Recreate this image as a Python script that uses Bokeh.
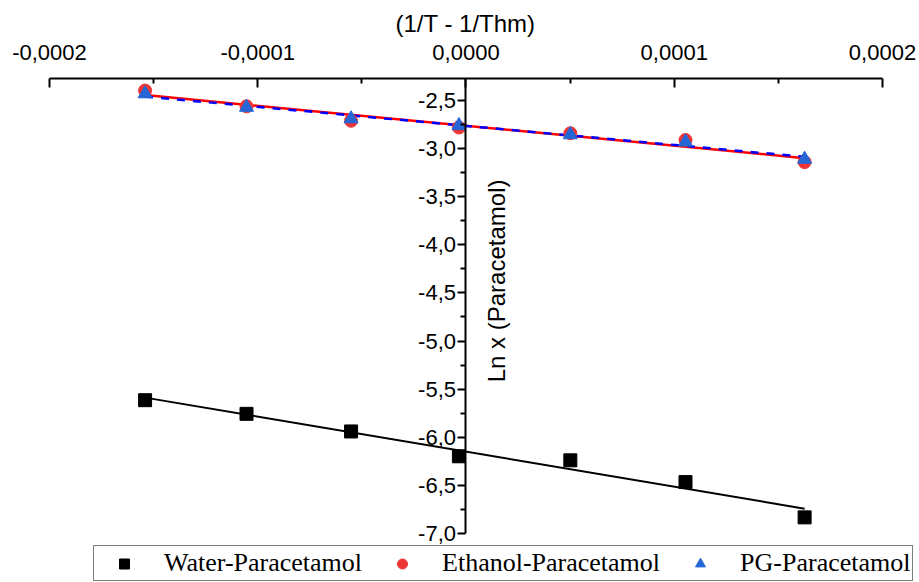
import numpy as np
from bokeh.plotting import figure
from bokeh.models import (ColumnDataSource, FixedTicker, CustomJSTickFormatter,
                          Label, Legend, LegendItem)
from bokeh.embed import file_html
from bokeh.resources import INLINE

# ---- data ----
x_vals = [-0.0001541, -0.0001054, -0.0000552, -0.0000034, 0.0000501, 0.0001054, 0.0001626]
water = [-5.615, -5.757, -5.940, -6.198, -6.240, -6.466, -6.833]
ethanol = [-2.396, -2.560, -2.710, -2.780, -2.840, -2.910, -3.140]
pg = [-2.430, -2.570, -2.690, -2.760, -2.855, -2.930, -3.110]
series_names = ["Water-Paracetamol", "Ethanol-Paracetamol", "PG-Paracetamol"]

x_ticks = [-0.0002, -0.0001, 0.0, 0.0001, 0.0002]
x_minor = [-0.00015, -0.00005, 0.00005, 0.00015]
x_axis_bounds = (-0.0002, 0.0002)
y_ticks = [-7.0, -6.5, -6.0, -5.5, -5.0, -4.5, -4.0, -3.5, -3.0, -2.5]
y_minor = [-6.75, -6.25, -5.75, -5.25, -4.75, -4.25, -3.75, -3.25, -2.75]
y_axis_bounds = (-7.0, -2.271)

x_title = "(1/T - 1/Thm)"
y_title = "Ln x (Paracetamol)"

src = ColumnDataSource(dict(x=x_vals, water=water, ethanol=ethanol, pg=pg))

def fit(ys):
    k, b = np.polyfit(x_vals, ys, 1)
    xs = [x_vals[0], x_vals[-1]]
    return xs, [k * xs[0] + b, k * xs[1] + b]

# the frame is symmetric around x = 0 and runs to the bottom edge so that the
# legend is not clipped; the axes themselves are limited with bounds
p = figure(width=919, height=582, x_range=(-0.00021825, 0.00021777), y_range=(-7.51, -2.271),
           x_axis_location="above", y_axis_location="left",
           output_backend="svg", toolbar_location=None,
           min_border_left=11, min_border_right=0, min_border_bottom=0, min_border_top=78)
p.grid.visible = False
p.outline_line_color = None
p.background_fill_color = "white"
p.border_fill_color = "white"

# x axis (top)
xa = p.xaxis[0]
xa.bounds = x_axis_bounds
xa.ticker = FixedTicker(ticks=x_ticks, minor_ticks=x_minor)
xa.formatter = CustomJSTickFormatter(code="""
    if (Math.abs(tick) < 1e-12) { return '0,0000'; }
    return tick.toFixed(4).replace('.', ',');
""")
xa.axis_label = x_title
xa.axis_label_text_font = "Liberation Sans"
xa.axis_label_text_font_size = "24px"
xa.axis_label_text_font_style = "normal"
xa.axis_label_text_color = "black"
xa.axis_label_standoff = 5
xa.major_label_text_font = "Liberation Sans"
xa.major_label_text_font_size = "22px"
xa.major_label_text_color = "black"
xa.major_label_standoff = 19
xa.axis_line_width = 2
xa.axis_line_color = "black"
xa.major_tick_in = 9
xa.major_tick_out = 0
xa.minor_tick_in = 5
xa.minor_tick_out = 0
xa.major_tick_line_width = 2
xa.minor_tick_line_width = 2

# y axis (crossing at x = 0)
ya = p.yaxis[0]
ya.fixed_location = 0
ya.bounds = y_axis_bounds
ya.ticker = FixedTicker(ticks=y_ticks, minor_ticks=y_minor)
ya.formatter = CustomJSTickFormatter(code="return tick.toFixed(1).replace('.', ',');")
ya.major_label_text_font = "Liberation Sans"
ya.major_label_text_font_size = "22px"
ya.major_label_text_color = "black"
ya.major_label_standoff = 2
ya.axis_line_width = 2
ya.axis_line_color = "black"
ya.major_tick_in = 0
ya.major_tick_out = 8
ya.minor_tick_in = 0
ya.minor_tick_out = 5
ya.major_tick_line_width = 2
ya.minor_tick_line_width = 2

p.add_layout(Label(x=0, y=-4.375, x_offset=17, text=y_title, angle=np.pi / 2,
                   text_align="center", text_baseline="top",
                   text_font="Liberation Sans", text_font_size="24px", text_color="black"))

# fitted lines
wx, wy = fit(water)
ex, ey = fit(ethanol)
gx, gy = fit(pg)
p.line(wx, wy, line_color="black", line_width=2)
p.line(ex, ey, line_color="#ff0000", line_width=2.5)
p.line(gx, gy, line_color="#0000ff", line_width=2.5, line_dash="8 8")

# markers
r_w = p.scatter("x", "water", source=src, marker="square", size=13, fill_color="black", line_color="black")
r_e = p.scatter("x", "ethanol", source=src, marker="circle", size=13, fill_color="#ee3535", line_color="#ee3535")
r_g = p.scatter("x", "pg", source=src, marker="triangle", size=14, fill_color="#2466d6", line_color="#2466d6")

legend = Legend(items=[LegendItem(label=series_names[0], renderers=[r_w]),
                       LegendItem(label=series_names[1], renderers=[r_e]),
                       LegendItem(label=series_names[2], renderers=[r_g])],
                orientation="horizontal", location=(82, 1),
                padding=2, spacing=12, glyph_width=56, glyph_height=25, label_standoff=12,
                label_text_font="Liberation Serif", label_text_font_size="26px",
                label_text_color="black", border_line_color="black", border_line_width=1.5,
                background_fill_color="white", background_fill_alpha=1.0, margin=0)
p.add_layout(legend)

open("out.html", "w").write(file_html(p, INLINE))
